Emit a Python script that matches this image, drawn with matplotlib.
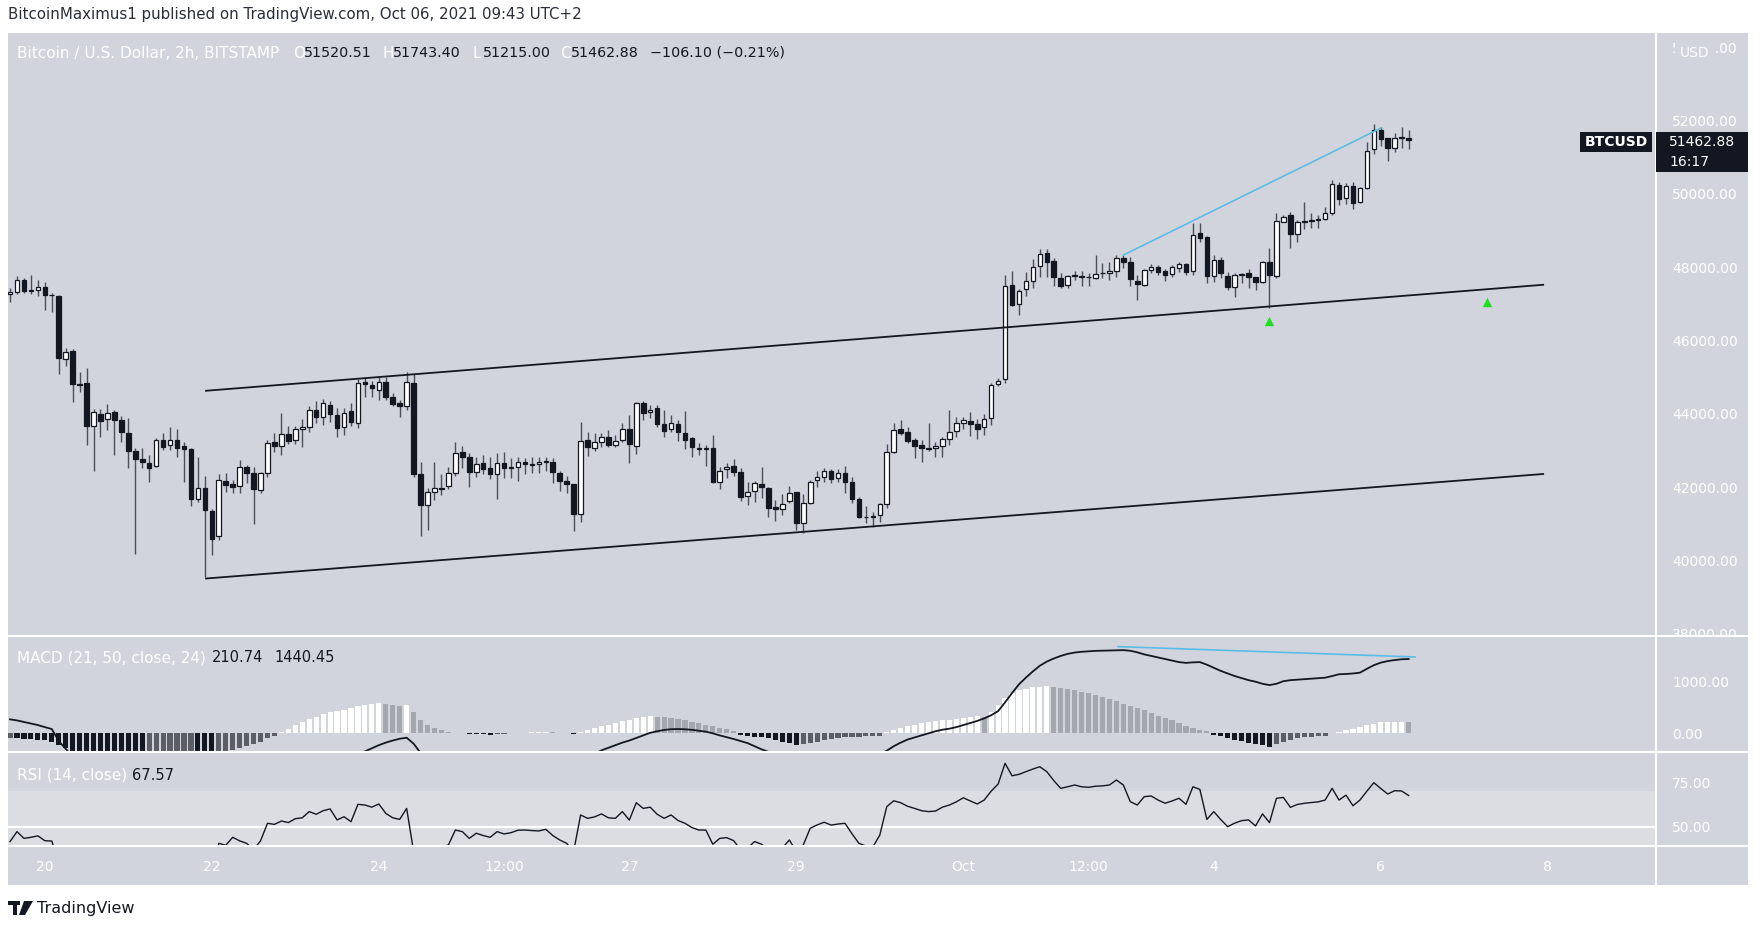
import matplotlib
matplotlib.use("Agg")
import matplotlib.dates as mdates
import matplotlib.pyplot as plt
import matplotlib.transforms as mtransforms
import numpy as np
import pandas as pd
from matplotlib.lines import Line2D
from matplotlib.patches import Rectangle, Polygon

W, H = 1765, 931
BG = "#d1d4dc"
BAND = "#dbdde3"
DARK = "#131722"
WICK = "#4c4f59"
WHITE = "#ffffff"
CYAN = "#5bbde6"

# ---- data: BTCUSD 2h bars, Sep 19 14:00 -> Oct 6 08:00 ----
opens = [
    47280, 47330, 47640, 47350, 47370, 47450, 47240, 47220, 45500, 45710,
    44810, 44850, 43680, 44000, 43850, 44040, 43820, 43480, 42990, 42760,
    42670, 42580, 43290, 43150, 43290, 43130, 43040, 41670, 41970, 41360,
    40680, 42170, 42080, 42030, 42540, 42400, 41920, 42380, 43230, 43130,
    43440, 43290, 43580, 43650, 44110, 43910, 44240, 43980, 43630, 44080,
    43760, 44880, 44790, 44650, 44880, 44470, 44290, 44210, 44850, 42350,
    41510, 41860, 41990, 42030, 42380, 42950, 42830, 42420, 42670, 42510,
    42360, 42670, 42530, 42540, 42700, 42630, 42620, 42700, 42680, 42380,
    42180, 42090, 41270, 43290, 43080, 43230, 43360, 43140, 43290, 43580,
    43120, 44290, 44040, 44170, 43710, 43580, 43720, 43470, 43330, 43060,
    43050, 43060, 42150, 42500, 42580, 42420, 41770, 41900, 42090, 41990,
    41450, 41400, 41610, 41860, 41030, 41560, 42200, 42290, 42450, 42240,
    42380, 42130, 41670, 41180, 41200, 41240, 41530, 42970, 43600, 43500,
    43290, 43150, 43060, 43060, 43130, 43310, 43530, 43740, 43800, 43720,
    43630, 43880, 44810, 44940, 47510, 46990, 47400, 47630, 48040, 48380,
    48180, 47710, 47510, 47760, 47770, 47740, 47710, 47830, 47830, 47900,
    48260, 48130, 47610, 47510, 47920, 48010, 47900, 47810, 47970, 48080,
    47900, 48920, 48810, 47750, 48200, 47770, 47470, 47800, 47850, 47740,
    47600, 48150, 47770, 49240, 49420, 48900, 49220, 49270, 49290, 49310,
    49470, 50240, 49880, 50210, 49790, 50150, 51210, 51740, 51510, 51260,
    51510, 51520.51,
]
highs = [
    47420, 47770, 47700, 47790, 47650, 47600, 47290, 47250, 45800, 45770,
    45150, 45240, 44130, 44130, 44260, 44100, 43940, 43900, 43080, 43080,
    42880, 43330, 43470, 43630, 43590, 43240, 43060, 42830, 42300, 41400,
    42360, 42400, 42200, 42740, 42610, 42560, 42420, 43290, 43470, 44010,
    43670, 43670, 43850, 44210, 44360, 44410, 44350, 44150, 44150, 44290,
    44940, 44970, 44900, 45010, 45010, 44580, 44380, 45150, 45090, 42700,
    41970, 42700, 42360, 42560, 43220, 43110, 42940, 42830, 42880, 42830,
    42920, 42970, 42790, 42810, 42790, 42830, 42830, 42830, 42790, 42440,
    42300, 42100, 43770, 43510, 43490, 43470, 43560, 43420, 43740, 43970,
    44330, 44360, 44240, 44240, 44100, 43970, 43830, 44080, 43380, 43200,
    43150, 43420, 42560, 42670, 42760, 42510, 42130, 42170, 42560, 42010,
    41650, 41810, 42030, 41860, 41810, 42200, 42450, 42530, 42490, 42490,
    42590, 42270, 41740, 41490, 41310, 41580, 43170, 43740, 43830, 43650,
    43330, 43300, 43760, 43240, 43380, 44100, 43920, 43920, 44040, 43860,
    44000, 44830, 44970, 47790, 47900, 47400, 47860, 48210, 48490, 48490,
    48240, 47830, 47800, 47900, 47900, 47830, 48330, 48120, 48150, 48330,
    48330, 48290, 47790, 47950, 48100, 48060, 47940, 48060, 48150, 48110,
    49200, 49200, 48860, 48330, 48270, 47880, 47830, 47830, 47940, 47740,
    48180, 48510, 49470, 49420, 49500, 49290, 49790, 49470, 49420, 49650,
    50380, 50330, 50290, 50330, 50200, 51420, 51900, 51810, 51510, 51670,
    51830, 51743.40,
]
lows = [
    47040, 47260, 47290, 47260, 47220, 46830, 46770, 45100, 45300, 44330,
    44600, 43150, 42440, 43380, 43560, 42880, 43240, 42510, 40170, 42510,
    42150, 42560, 43010, 43010, 42810, 42130, 41500, 41600, 39560, 40150,
    40560, 41880, 41830, 41850, 42110, 41000, 41830, 42290, 42950, 42880,
    43170, 43180, 43090, 43500, 43760, 43700, 43790, 43380, 43410, 43670,
    43620, 44470, 44470, 44380, 44380, 44210, 43910, 44110, 42290, 40670,
    40830, 41650, 41790, 41940, 42310, 42530, 42010, 42290, 42360, 42220,
    41670, 42260, 42260, 42170, 42350, 42380, 42380, 42450, 42120, 41900,
    41850, 40800, 41060, 42850, 42990, 43090, 43090, 43090, 43230, 42650,
    42900, 43830, 43900, 43630, 43380, 43510, 43260, 43030, 42830, 42880,
    42580, 42110, 41940, 42260, 42310, 41630, 41510, 41600, 41710, 41200,
    41080, 41240, 41560, 40830, 40740, 41540, 42010, 42130, 42110, 42130,
    41850, 41580, 41170, 41010, 40910, 41060, 41420, 42920, 43420, 43200,
    42790, 42700, 43000, 42830, 42830, 43150, 43380, 43600, 43400, 43310,
    43420, 43700, 44770, 44850, 46940, 46700, 47220, 47440, 47720, 47720,
    47500, 47440, 47440, 47650, 47500, 47490, 47670, 47700, 47650, 47740,
    47970, 47500, 47110, 47480, 47830, 47800, 47630, 47740, 47880, 47790,
    47800, 48680, 47560, 47600, 47700, 47380, 47200, 47560, 47440, 47380,
    47560, 46880, 47700, 49240, 48530, 48700, 49040, 49060, 49060, 49290,
    49420, 49700, 49710, 49600, 49740, 50130, 51090, 51310, 50900, 51150,
    51260, 51215.00,
]
closes = [
    47330, 47640, 47350, 47360, 47450, 47240, 47230, 45510, 45700, 44810,
    44790, 43680, 44060, 43810, 44030, 43840, 43500, 43000, 42760, 42680,
    42510, 43300, 43100, 43280, 43060, 43040, 41670, 41970, 41380, 40580,
    42200, 42060, 42000, 42540, 42400, 41950, 42380, 43200, 43130, 43440,
    43260, 43580, 43630, 44110, 43910, 44290, 44000, 43620, 44030, 43790,
    44850, 44810, 44700, 44880, 44470, 44270, 44210, 44880, 42350, 41510,
    41860, 41970, 41950, 42380, 42940, 42810, 42420, 42630, 42490, 42360,
    42670, 42510, 42530, 42690, 42630, 42610, 42700, 42690, 42410, 42180,
    42080, 41270, 43270, 43090, 43230, 43360, 43150, 43260, 43580, 43180,
    44290, 44030, 44100, 43710, 43530, 43760, 43500, 43290, 43090, 43050,
    43060, 42150, 42450, 42560, 42420, 41740, 41860, 42110, 42010, 41420,
    41400, 41550, 41850, 41010, 41560, 42140, 42290, 42450, 42220, 42380,
    42130, 41680, 41200, 41180, 41200, 41530, 42970, 43560, 43470, 43260,
    43120, 43060, 43050, 43130, 43310, 43500, 43760, 43830, 43710, 43600,
    43850, 44790, 44900, 47490, 46970, 47360, 47630, 48010, 48350, 48130,
    47720, 47500, 47760, 47770, 47740, 47730, 47810, 47830, 47900, 48260,
    48130, 47670, 47540, 47920, 48010, 47880, 47790, 48010, 48080, 47880,
    48880, 48790, 47770, 48200, 47830, 47470, 47790, 47820, 47740, 47600,
    48150, 47790, 49260, 49380, 48900, 49220, 49270, 49290, 49310, 49470,
    50270, 49860, 50210, 49760, 50150, 51180, 51740, 51490, 51260, 51530,
    51560, 51462.88,
]

macd = [
    271, 250, 220, 190, 160, 120, 83, -150, -300, -450,
    -560, -700, -780, -850, -900, -950, -990, -1040, -1090, -1130,
    -1160, -1170, -1190, -1200, -1210, -1220, -1250, -1280, -1320, -1350,
    -1330, -1300, -1270, -1230, -1200, -1170, -1130, -1070, -1010, -950,
    -890, -830, -770, -700, -640, -590, -540, -500, -460, -430,
    -400, -350, -290, -230, -180, -140, -105, -85, -200, -380,
    -520, -600, -650, -680, -690, -680, -680, -670, -660, -650,
    -640, -630, -610, -600, -590, -580, -570, -560, -560, -560,
    -570, -600, -520, -470, -400, -330, -280, -230, -180, -140,
    -90, -40, 10, 40, 65, 80, 83, 78, 68, 50,
    32, 0, -40, -75, -110, -150, -190, -250, -310, -360,
    -420, -460, -480, -500, -520, -510, -470, -440, -410, -390,
    -370, -380, -400, -420, -430, -400, -337, -250, -180, -120,
    -80, -40, 0, 40, 70, 90, 120, 160, 200, 240,
    290, 350, 430, 600, 780, 950, 1080, 1200, 1310, 1390,
    1450, 1500, 1540, 1565, 1580, 1590, 1598, 1602, 1605, 1608,
    1612, 1600, 1570, 1530, 1500, 1470, 1440, 1410, 1380, 1365,
    1375, 1380, 1330, 1270, 1210, 1160, 1110, 1070, 1030, 1000,
    960, 935, 960, 1010, 1030, 1040, 1050, 1060, 1070, 1078,
    1110, 1145, 1150, 1160, 1175, 1250, 1320, 1370, 1400, 1420,
    1435, 1440.45,
]
hist = [
    -90, -100, -110, -115, -125, -135, -160, -220, -290, -340,
    -390, -420, -440, -460, -470, -480, -490, -500, -510, -520,
    -515, -505, -495, -485, -475, -465, -455, -470, -480, -490,
    -400, -350, -315, -285, -250, -210, -160, -100, -50, 30,
    90, 160, 220, 280, 320, 380, 420, 440, 460, 490,
    520, 550, 570, 580, 565, 550, 530, 540, 420, 260,
    170, 100, 60, 30, 15, 10, -10, -15, -20, -25,
    -15, -8, 5, 10, 15, 20, 25, 30, 20, 10,
    5, -5, 32, 60, 100, 140, 170, 200, 230, 260,
    290, 320, 335, 325, 310, 290, 270, 250, 225, 195,
    165, 135, 105, 75, 40, -30, -50, -65, -80, -100,
    -130, -160, -190, -225, -210, -190, -160, -130, -110, -90,
    -80, -75, -70, -60, -55, -50, 20, 60, 100, 140,
    170, 195, 215, 235, 250, 265, 280, 295, 310, 330,
    325, 420, 550, 680, 775, 830, 865, 890, 905, 923,
    904, 880, 860, 835, 810, 780, 745, 700, 665, 620,
    575, 525, 490, 455, 395, 330, 290, 250, 200, 135,
    100, 60, 40, -30, -60, -85, -120, -150, -180, -210,
    -235, -260, -215, -165, -130, -100, -80, -65, -55, -50,
    10, 30, 60, 90, 130, 160, 190, 210, 215, 220,
    225, 210.74,
]
rsi = [
    41.6, 47.2, 43.4, 44.0, 44.8, 42.1, 41.9, 30, 32, 25,
    26, 20, 28, 27, 30, 30, 28, 25, 24, 23,
    22, 30, 29, 31, 30, 29, 22, 26, 22, 20,
    40.6, 39.5, 44, 42, 40.6, 37, 42, 51.9, 51.3, 53.2,
    52.3, 54.5, 55, 58.5, 57, 59, 60, 53.8, 55.6, 52.8,
    62.6, 62.2, 61, 62.8, 57.5, 55, 54.1, 60.3, 36, 30,
    32, 33, 38.5, 39.7, 48.1, 47.2, 43.4, 46.3, 45, 44,
    47.2, 45.9, 46.6, 48, 48.1, 47.8, 47.6, 48.5, 45, 42.5,
    40.6, 36, 56.6, 54.7, 55.5, 57.2, 55, 54.7, 58.5, 53.7,
    63.5, 60.3, 61, 57, 54.7, 56.6, 53.5, 51.9, 49.5, 48.1,
    48.1, 40.1, 43.4, 43.8, 42.1, 37, 38, 41.6, 40.1, 37,
    35, 38, 42.5, 36, 39.7, 49.1, 51, 52.5, 50.9, 51.5,
    51.9, 46, 40.6, 39.1, 38.5, 45.3, 61.3, 64.6, 63.5, 61.5,
    60.3, 59, 58.5, 58.8, 61, 62.2, 64, 66.3, 64.5, 62.8,
    65, 70, 74, 85.7, 78.7, 79.5, 81, 82.5, 83.8, 81,
    76, 71.6, 72.5, 73.5, 72.5, 72.2, 72.8, 73, 73.5, 76.3,
    73.5, 64.1, 62.2, 66.9, 67.3, 65, 63.2, 64.5, 66, 62.6,
    72.5, 71, 54.1, 58.5, 54, 50, 52, 53.4, 53.8, 50.4,
    57.2, 52.3, 66, 66.5, 60.9, 62.5, 63.2, 63.6, 64, 65,
    71.6, 65, 67.8, 61.8, 65, 70, 74.8, 71.5, 68.4, 70.3,
    70.1, 67.57,
]

# drawn lines (time, value)
chan_up_t = ["2021-09-21 22:20", "2021-10-07 22:40"]
chan_up_p = [44630, 47520]
chan_lo_t = ["2021-09-21 22:20", "2021-10-07 22:40"]
chan_lo_p = [39510, 42360]
cyan_t = ["2021-10-02 22:00", "2021-10-06 00:00"]
cyan_p = [48330, 51790]
macd_cyan_t = ["2021-10-02 20:30", "2021-10-06 09:50"]
macd_cyan_v = [1680, 1480]
arrow_t = ["2021-10-04 16:00", "2021-10-07 06:30"]
arrow_p = [46540, 47060]

price_ticks = [38000, 40000, 42000, 44000, 46000, 48000, 50000, 52000, 54000]
date_ticks = ["2021-09-20 00:00", "2021-09-22 00:00", "2021-09-24 00:00", "2021-09-25 12:00",
              "2021-09-27 00:00", "2021-09-29 00:00", "2021-10-01 00:00", "2021-10-02 12:00",
              "2021-10-04 00:00", "2021-10-06 00:00", "2021-10-08 00:00"]
date_labels = ["20", "22", "24", "12:00", "27", "29", "Oct", "12:00", "4", "6", "8"]

times = pd.date_range("2021-09-19 14:00", periods=len(closes), freq="2h")
x = mdates.date2num(times.values)
o, h, l, c = (np.array(v, dtype=float) for v in (opens, highs, lows, closes))
hv = np.array(hist, dtype=float)


def tnum(ts):
    return mdates.date2num(pd.to_datetime(ts, format="mixed").values)


fig = plt.figure(figsize=(W / 100, H / 100), dpi=100)
fig.patch.set_facecolor("white")


def px_axes(x0, y0, x1, y1, **kw):
    return fig.add_axes([x0 / W, 1 - y1 / H, (x1 - x0) / W, (y1 - y0) / H], **kw)


def ftext(xp, yp, s, **kw):
    return fig.text(xp / W, 1 - yp / H, s, **kw)


fig.add_artist(Rectangle((8 / W, 1 - 885 / H), (1748 - 8) / W, (885 - 33) / H,
                         transform=fig.transFigure, facecolor=BG, edgecolor="none", zorder=-1))

xlim = tnum(["2021-09-19 13:25", "2021-10-09 07:06"])

# ---- price pane ----
ax = px_axes(8, 33, 1656, 636)
ax.set_facecolor(BG)
up = c >= o
ax.vlines(x, l, h, color=WICK, lw=1.0, zorder=2)
ax.bar(x, np.maximum(np.abs(c - o), 14), bottom=np.minimum(o, c), width=0.055,
       color=np.where(up, WHITE, DARK), edgecolor=DARK, linewidth=0.9, zorder=3)
ax.plot(tnum(chan_up_t), chan_up_p, color=DARK, lw=1.3, zorder=4)
ax.plot(tnum(chan_lo_t), chan_lo_p, color=DARK, lw=1.3, zorder=4)
ax.plot(tnum(cyan_t), cyan_p, color=CYAN, lw=1.2, zorder=4)
ax.scatter(tnum(arrow_t), arrow_p, marker="^", s=45, color="#1ee01e", zorder=5, linewidths=0)
ax.set_ylim(37942, 54386)
ax.set_xlim(*xlim)

# ---- MACD pane ----
axm = px_axes(8, 636, 1656, 752, sharex=ax)
axm.set_facecolor(BG)
prev = np.concatenate([[hv[0]], hv[:-1]])
hcol = np.where(hv >= 0, np.where(hv >= prev, WHITE, "#a4a7ae"),
                np.where(hv < prev, DARK, "#5b5e67"))
axm.bar(x, hv, width=0.062, color=hcol, linewidth=0, zorder=2)
axm.plot(x, macd, color=DARK, lw=1.3, zorder=3)
axm.plot(tnum(macd_cyan_t), macd_cyan_v, color=CYAN, lw=1.2, zorder=4)
axm.set_ylim(-362, 1886)

# ---- RSI pane ----
axr = px_axes(8, 752, 1656, 846, sharex=ax)
axr.set_facecolor(BG)
axr.axhspan(30, 70, color=BAND, lw=0, zorder=0)
axr.axhline(50, color=WHITE, lw=1.6, zorder=1)
axr.plot(x, rsi, color=DARK, lw=1.0, zorder=3)
axr.set_ylim(39.1, 92.1)

for a, ticks, (y0, y1) in ((ax, price_ticks, (33, 636)),
                           (axm, [0, 1000], (636, 752)),
                           (axr, [50, 75], (752, 846))):
    for s in a.spines.values():
        s.set_visible(False)
    a.yaxis.tick_right()
    a.set_yticks(ticks)
    a.set_yticklabels(["{:.2f}".format(t) for t in ticks])
    a.tick_params(axis="y", length=0, pad=11.5, labelsize=10, labelcolor=WHITE)
    a.tick_params(axis="x", length=0, labelbottom=False)
    box = mtransforms.TransformedBbox(
        mtransforms.Bbox.from_extents(1656 / W, 1 - y1 / H, 1748 / W, 1 - y0 / H), fig.transFigure)
    for t in a.get_yticklabels():
        t.set_clip_box(box)
        t.set_clip_on(True)

axr.set_xticks(tnum(date_ticks))
axr.set_xticklabels(date_labels)
axr.tick_params(axis="x", length=0, pad=10, labelsize=10, labelcolor=WHITE, labelbottom=True)

# pane separators
for yy in (636, 752, 846):
    fig.add_artist(Line2D([8 / W, 1748 / W], [1 - yy / H] * 2, color=WHITE, lw=1.5, zorder=5))
fig.add_artist(Line2D([1656 / W] * 2, [1 - 885 / H, 1 - 33 / H], color=WHITE, lw=1.5, zorder=5))

# ---- texts ----
ftext(8, 15, "BitcoinMaximus1 published on TradingView.com, Oct 06, 2021 09:43 UTC+2",
      color="#2a2e39", fontsize=10.8, va="center")
ftext(17, 53, "Bitcoin / U.S. Dollar, 2h, BITSTAMP", color=WHITE, fontsize=11, va="center")
for xp, lab, val in ((293, "O", "51520.51"), (382, "H", "51743.40"),
                     (472, "L", "51215.00"), (560, "C", "51462.88")):
    ftext(xp, 53, lab, color=WHITE, fontsize=11, va="center")
    ftext(xp + 11, 53, val, color=DARK, fontsize=10.3, va="center")
ftext(650, 53, "\u2212106.10 (\u22120.21%)", color=DARK, fontsize=10.3, va="center")

ftext(17, 658, "MACD (21, 50, close, 24)", color=WHITE, fontsize=11, va="center")
ftext(212, 658, "210.74", color=DARK, fontsize=10.5, va="center")
ftext(274, 658, "1440.45", color=DARK, fontsize=10.5, va="center")
ftext(17, 775, "RSI (14, close)", color=WHITE, fontsize=11, va="center")
ftext(132, 775, "67.57", color=DARK, fontsize=10.5, va="center")

# USD overlay on price scale
ftext(1695, 53, "USD", color=WHITE, fontsize=10, va="center", ha="center", zorder=6,
      bbox=dict(facecolor=BG, edgecolor="none", pad=3.5))

# last price labels
fig.add_artist(Rectangle((1580 / W, 1 - 152 / H), 72 / W, 20 / H, transform=fig.transFigure,
                         facecolor=DARK, edgecolor="none", zorder=6))
fig.add_artist(Rectangle((1656 / W, 1 - 172 / H), 92 / W, 40 / H, transform=fig.transFigure,
                         facecolor=DARK, edgecolor="none", zorder=6))
ftext(1616, 141.5, "BTCUSD", color=WHITE, fontsize=10, fontweight="bold", ha="center", va="center", zorder=7)
ftext(1669, 141.5, "51462.88", color=WHITE, fontsize=10, va="center", zorder=7)
ftext(1669, 162, "16:17", color=WHITE, fontsize=10, va="center", zorder=7)

# TradingView logo + wordmark
fig.add_artist(Rectangle((8 / W, 1 - 905 / H), 12 / W, 4 / H, transform=fig.transFigure,
                         facecolor=DARK, edgecolor="none"))
fig.add_artist(Rectangle((13 / W, 1 - 915 / H), 4 / W, 11 / H, transform=fig.transFigure,
                         facecolor=DARK, edgecolor="none"))
fig.add_artist(Polygon([(24 / W, 1 - 901 / H), (33 / W, 1 - 901 / H), (25 / W, 1 - 915 / H),
                        (19 / W, 1 - 915 / H)], closed=True, transform=fig.transFigure,
                       facecolor=DARK, edgecolor="none"))
ftext(37, 909, "TradingView", color=DARK, fontsize=11.5, va="center")

fig.savefig("out.png", dpi=100, facecolor="white")
